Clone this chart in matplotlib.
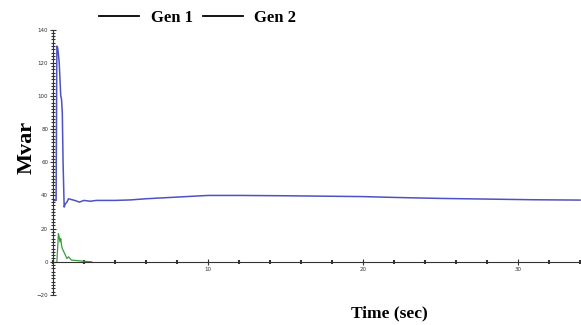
import matplotlib
matplotlib.use("Agg")
import matplotlib.pyplot as plt
from matplotlib.ticker import MultipleLocator
from matplotlib.lines import Line2D

# Gen 1 (blue) reactive power
t_gen1 = [0, 0.2, 0.25, 0.3, 0.35, 0.4, 0.45, 0.5, 0.55, 0.6, 0.65, 0.72, 0.8, 0.9, 1.0, 1.2,
          1.4, 1.7, 2.0, 2.4, 2.8, 3.2, 4, 5, 6, 8, 10, 12, 15, 18, 20, 22, 25, 28, 31, 34]
q_gen1 = [37, 37, 130, 129, 125, 120, 110, 100, 98, 90, 60, 33, 35, 36, 38, 37.5,
          37, 36, 37, 36.5, 37, 37, 37, 37.3, 38, 39, 40, 40, 39.8, 39.5, 39.3, 38.8,
          38.2, 37.8, 37.4, 37.2]

# Gen 2 (green) reactive power
t_gen2 = [0.25, 0.35, 0.4, 0.45, 0.5, 0.55, 0.6, 0.7, 0.8, 0.9, 1.0, 1.2, 1.5, 2.0, 2.5]
q_gen2 = [0, 17, 15, 12, 14, 10, 8, 6, 4, 2, 3, 1, 0.8, 0.3, 0]

series_labels = ["Gen 1", "Gen 2"]
x_ticks = [10, 20, 30]
y_ticks = [-20, 0, 20, 40, 60, 80, 100, 120, 140]

fig = plt.figure(figsize=(5.81, 3.25), dpi=100)
ax = fig.add_axes([53 / 581, 1 - 295 / 325, 1 - 53 / 581, (295 - 29.5) / 325])

ax.plot(t_gen1, q_gen1, color="#4d52c2", lw=1.1)
ax.plot(t_gen2, q_gen2, color="#3c9a3c", lw=0.9)

ax.set_xlim(0, 34.06)
ax.set_ylim(-20, 140)

ax.spines["top"].set_visible(False)
ax.spines["right"].set_visible(False)
ax.spines["bottom"].set_position(("data", 0))
ax.spines["left"].set_color("#333333")
ax.spines["bottom"].set_color("#333333")
ax.spines["left"].set_linewidth(0.8)
ax.spines["bottom"].set_linewidth(0.8)

ax.set_xticks(x_ticks)
ax.set_yticks(y_ticks)
ax.xaxis.set_minor_locator(MultipleLocator(2))
ax.yaxis.set_minor_locator(MultipleLocator(2))
ax.tick_params(axis="both", which="major", direction="inout", length=5, width=0.8,
               labelsize=4, colors="#333333", pad=1)
ax.tick_params(axis="x", which="minor", direction="inout", length=3, width=1.5,
               colors="#333333")
ax.tick_params(axis="y", which="minor", direction="inout", length=3, width=0.8,
               colors="#333333")

fig.text(0.045, 0.545, "Mvar", rotation=90, ha="center", va="center",
         fontfamily="Liberation Serif", fontweight="bold", fontsize=16)
fig.text(0.67, 0.035, "Time (sec)", ha="center", va="center",
         fontfamily="Liberation Serif", fontweight="bold", fontsize=12.5)

handles = [Line2D([], [], color="black", lw=1.3) for _ in series_labels]
fig.legend(handles, series_labels, loc="center", bbox_to_anchor=(0.34, 0.945), ncol=2,
           frameon=False, handlelength=2.4, handletextpad=0.7, columnspacing=0.6,
           prop={"family": "Liberation Serif", "weight": "bold", "size": 12})

fig.savefig("out.png", dpi=100)
